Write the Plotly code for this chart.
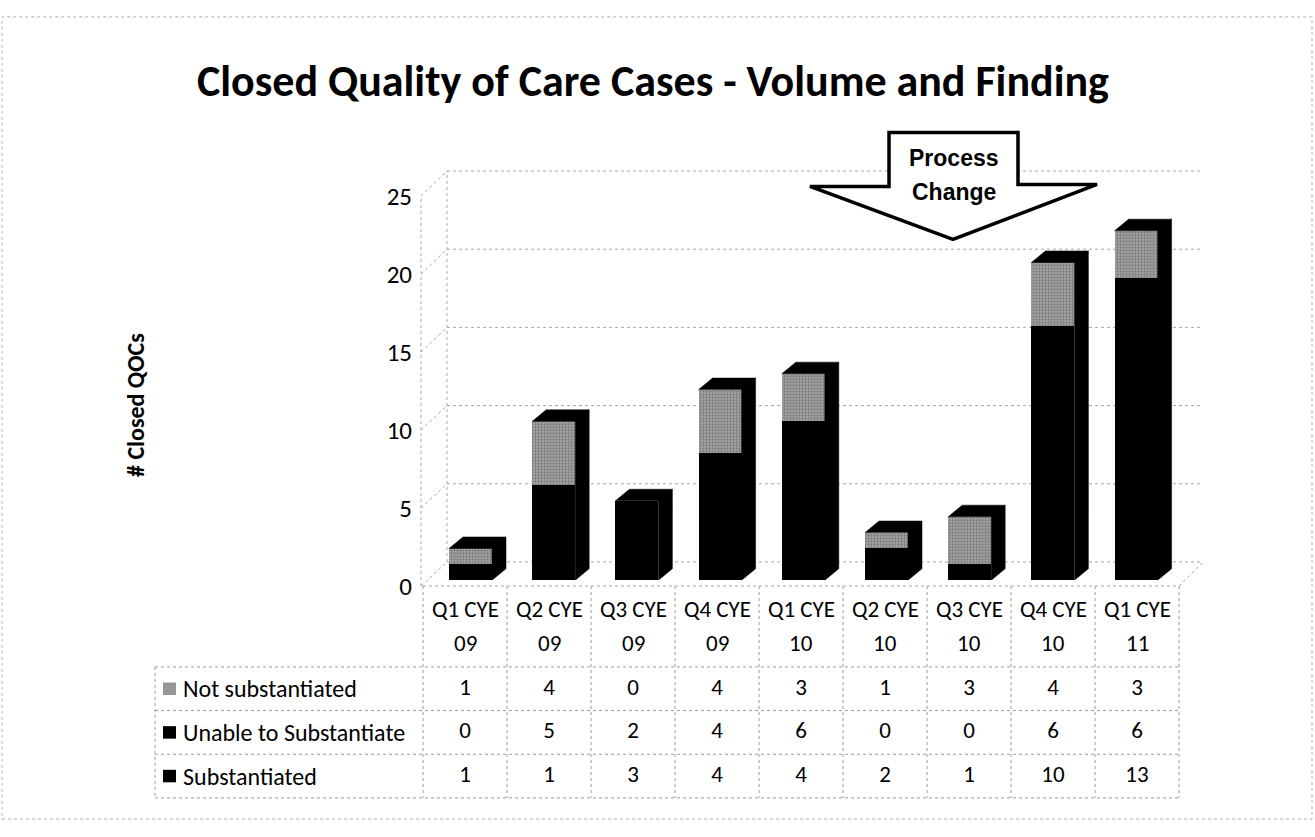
import plotly.graph_objects as go

# ---------------- data ----------------
categories = ["Q1 CYE 09", "Q2 CYE 09", "Q3 CYE 09", "Q4 CYE 09", "Q1 CYE 10",
              "Q2 CYE 10", "Q3 CYE 10", "Q4 CYE 10", "Q1 CYE 11"]
series_names = ["Not substantiated", "Unable to Substantiate", "Substantiated"]
not_substantiated = [1, 4, 0, 4, 3, 1, 3, 4, 3]
unable_to_substantiate = [0, 5, 2, 4, 6, 0, 0, 6, 6]
substantiated = [1, 1, 3, 4, 4, 2, 1, 10, 13]
y_ticks = [0, 5, 10, 15, 20, 25]
title_text = "Closed Quality of Care Cases - Volume and Finding"
y_title = "# Closed QOCs"
callout_lines = ["Process", "Change"]

# ---------------- layout helpers (pixels -> paper) ----------------
W, H = 1315, 837
def fx(p): return p / W
def fy(p): return 1 - p / H

FONT = "Carlito, Lato, 'Noto Sans', sans-serif"
n = len(categories)
table_rows = [not_substantiated, unable_to_substantiate, substantiated]
totals = [a + b + c for a, b, c in zip(not_substantiated, unable_to_substantiate, substantiated)]

# bar plane geometry
X_L, X_R = 423, 1180
BAR0, STEP = 470.5, 83.2
Y0, YPU = 587, 16.5
bw = 43 / STEP
ddx, ddy = 14 / STEP, 12 / YPU
x_r0 = -(BAR0 - X_L) / STEP
x_r1 = x_r0 + (X_R - X_L) / STEP

# front axis / back wall geometry
FRONT_X, FRONT_0, FRONT_PU = 421, 593, 16.2
BACK_X0, BACK_X1, BACK_0, BACK_PU = 447, 1201, 568, 16.24
def front_y(v): return FRONT_0 - FRONT_PU * v
def back_y(v): return BACK_0 - BACK_PU * v

# table geometry
T_L, T_X0, T_X1 = 155, 423, 1179
T_TOP, T_HEAD, T_BOT = 593, 677, 813
col_w = (T_X1 - T_X0) / n
row_h = (T_BOT - T_HEAD) / 3
TFS = 23

fig = go.Figure()

gray_marker = dict(color="#969696", line=dict(width=0),
                   pattern=dict(shape=".", fgcolor="#4e4e4e", bgcolor="#a6a6a6",
                                size=3, solidity=0.45))
black_marker = dict(color="#000000", line=dict(width=0))

xs = list(range(n))
fig.add_trace(go.Bar(x=xs, y=substantiated, width=[bw] * n, marker=black_marker,
                     name=series_names[2], showlegend=False, hoverinfo="skip"))
fig.add_trace(go.Bar(x=xs, y=unable_to_substantiate, width=[bw] * n, marker=black_marker,
                     name=series_names[1], showlegend=False, hoverinfo="skip"))
fig.add_trace(go.Bar(x=xs, y=not_substantiated, width=[bw] * n, marker=gray_marker,
                     name=series_names[0], showlegend=False, hoverinfo="skip"))

# 3-D side and top faces derived from the stacked totals
px_, py_ = [], []
for i, tot in enumerate(totals):
    xl, xr = i - bw / 2, i + bw / 2
    px_ += [xr, xr + ddx, xr + ddx, xr, xr, None]
    py_ += [0, ddy, tot + ddy, tot, 0, None]
    px_ += [xl, xl + ddx, xr + ddx, xr, xl, None]
    py_ += [tot, tot + ddy, tot + ddy, tot, tot, None]
fig.add_trace(go.Scatter(x=px_, y=py_, mode="lines", fill="toself", fillcolor="#000000",
                         line=dict(width=0.5, color="#000000"), showlegend=False,
                         hoverinfo="skip", cliponaxis=False))

# invisible anchor trace for the front tick-label axis
fig.add_trace(go.Scatter(x=[0], y=[0], xaxis="x", yaxis="y2", mode="markers",
                         marker=dict(opacity=0), showlegend=False, hoverinfo="skip"))

# table values
tx, ty, tt = [], [], []
for r, row in enumerate(table_rows):
    for i, v in enumerate(row):
        tx.append(i); ty.append(r); tt.append(str(v))
fig.add_trace(go.Scatter(x=tx, y=ty, text=tt, mode="text", xaxis="x2", yaxis="y3",
                         textfont=dict(family=FONT, size=TFS, color="#000"),
                         showlegend=False, hoverinfo="skip", cliponaxis=False))

shapes = []
grid_line = dict(color="#a8a8a8", width=1, dash="dot")
for v in y_ticks:
    shapes.append(dict(type="line", xref="paper", yref="paper", layer="below",
                       x0=fx(BACK_X0), x1=fx(BACK_X1), y0=fy(back_y(v)), y1=fy(back_y(v)),
                       line=grid_line))
    shapes.append(dict(type="line", xref="paper", yref="paper", layer="below",
                       x0=fx(FRONT_X), x1=fx(BACK_X0), y0=fy(front_y(v)), y1=fy(back_y(v)),
                       line=grid_line))
shapes.append(dict(type="line", xref="paper", yref="paper", layer="below",
                   x0=fx(BACK_X0), x1=fx(BACK_X0), y0=fy(back_y(0)), y1=fy(back_y(25)), line=grid_line))
shapes.append(dict(type="line", xref="paper", yref="paper", layer="below",
                   x0=fx(FRONT_X), x1=fx(FRONT_X), y0=fy(front_y(0)), y1=fy(front_y(25)), line=grid_line))
shapes.append(dict(type="line", xref="paper", yref="paper", layer="below",
                   x0=fx(T_X0), x1=fx(T_X1), y0=fy(T_TOP), y1=fy(T_TOP), line=grid_line))
shapes.append(dict(type="line", xref="paper", yref="paper", layer="below",
                   x0=fx(T_X1), x1=fx(BACK_X1 + 2), y0=fy(T_TOP), y1=fy(back_y(0)), line=grid_line))

tline = dict(color="#9a9a9a", width=1, dash="dot")
for k in range(n + 1):
    shapes.append(dict(type="line", xref="paper", yref="paper",
                       x0=fx(T_X0 + k * col_w), x1=fx(T_X0 + k * col_w),
                       y0=fy(T_TOP), y1=fy(T_BOT), line=tline))
shapes.append(dict(type="line", xref="paper", yref="paper",
                   x0=fx(T_L), x1=fx(T_L), y0=fy(T_HEAD), y1=fy(T_BOT), line=tline))
for r in range(4):
    yy = T_HEAD + r * row_h
    shapes.append(dict(type="line", xref="paper", yref="paper",
                       x0=fx(T_L), x1=fx(T_X1), y0=fy(yy), y1=fy(yy), line=tline))

for r in range(3):
    yc = T_HEAD + (r + 0.5) * row_h
    shapes.append(dict(type="rect", xref="paper", yref="paper",
                       x0=fx(163), x1=fx(176), y0=fy(yc + 6.5), y1=fy(yc - 6.5),
                       fillcolor="#969696" if r == 0 else "#000000", line=dict(width=0)))

arrow_pts = [(889, 122), (1018, 122), (1018, 176), (1097, 176), (953, 233),
             (810, 178), (889, 178)]
path = "M " + " L ".join(f"{fx(a):.5f},{fy(b):.5f}" for a, b in arrow_pts) + " Z"
shapes.append(dict(type="path", xref="paper", yref="paper", path=path,
                   fillcolor="#ffffff", line=dict(color="#000000", width=3.5)))

shapes.append(dict(type="rect", xref="paper", yref="paper", x0=fx(2), x1=fx(1312),
                   y0=fy(835), y1=fy(2), line=dict(color="#b0b0b0", width=1, dash="dot")))

def ann(text, x, y, size, xref="paper", xanchor="center", family=FONT, angle=0):
    return dict(text=text, x=x, y=y, xref=xref, yref="paper", showarrow=False,
                xanchor=xanchor, yanchor="middle", textangle=angle,
                font=dict(family=family, size=size, color="#000"))

annotations = [
    ann("<b>" + title_text + "</b>", fx(653), fy(69), 44),
    ann("<b>" + y_title + "</b>", fx(135), fy(405), 24, angle=-90),
    ann("<b>" + callout_lines[0] + "</b>", fx(954), fy(148), 23,
        family="'Liberation Sans', Arial, sans-serif"),
    ann("<b>" + callout_lines[1] + "</b>", fx(954), fy(184), 23,
        family="'Liberation Sans', Arial, sans-serif"),
]
for i, c in enumerate(categories):
    q, yr = c.rsplit(" ", 1)
    annotations.append(ann(q, i, fy(617), TFS, xref="x2"))
    annotations.append(ann(yr, i, fy(652), TFS, xref="x2"))
for r, name in enumerate(series_names):
    yc = T_HEAD + (r + 0.5) * row_h
    annotations.append(ann(name, fx(181), fy(yc), 24, xanchor="left"))

fig.update_layout(
    autosize=True, margin=dict(l=0, r=0, t=0, b=0),
    paper_bgcolor="#ffffff", plot_bgcolor="rgba(0,0,0,0)",
    barmode="stack", showlegend=False,
    xaxis=dict(domain=[fx(X_L), fx(X_R)], range=[x_r0, x_r1], visible=False,
               anchor="y"),
    yaxis=dict(domain=[fy(Y0), fy(Y0 - 25 * YPU)], range=[0, 25], visible=False,
               anchor="x"),
    yaxis2=dict(domain=[fy(front_y(0)), fy(front_y(25))], range=[0, 25], anchor="x",
                tickvals=y_ticks, showgrid=False, zeroline=False, showline=False,
                ticks="", ticklabelstandoff=10,
                tickfont=dict(family=FONT, size=25, color="#000")),
    xaxis2=dict(domain=[fx(T_X0), fx(T_X1)], range=[-0.5, n - 0.5], visible=False,
                anchor="y3"),
    yaxis3=dict(domain=[fy(T_BOT), fy(T_HEAD)], range=[2.5, -0.5], visible=False,
                anchor="x2"),
    shapes=shapes, annotations=annotations,
)

post = ("document.body.style.margin='0';document.body.style.overflow='hidden';"
        "var d=document.getElementById('{plot_id}');d.style.position='fixed';"
        "d.style.left='0px';d.style.top='0px';d.style.width='100vw';d.style.height='100vh';"
        "Plotly.Plots.resize(d);")
fig.write_html("out.html", post_script=post, default_width="100vw", default_height="100vh",
               config={"displayModeBar": False, "responsive": True})
